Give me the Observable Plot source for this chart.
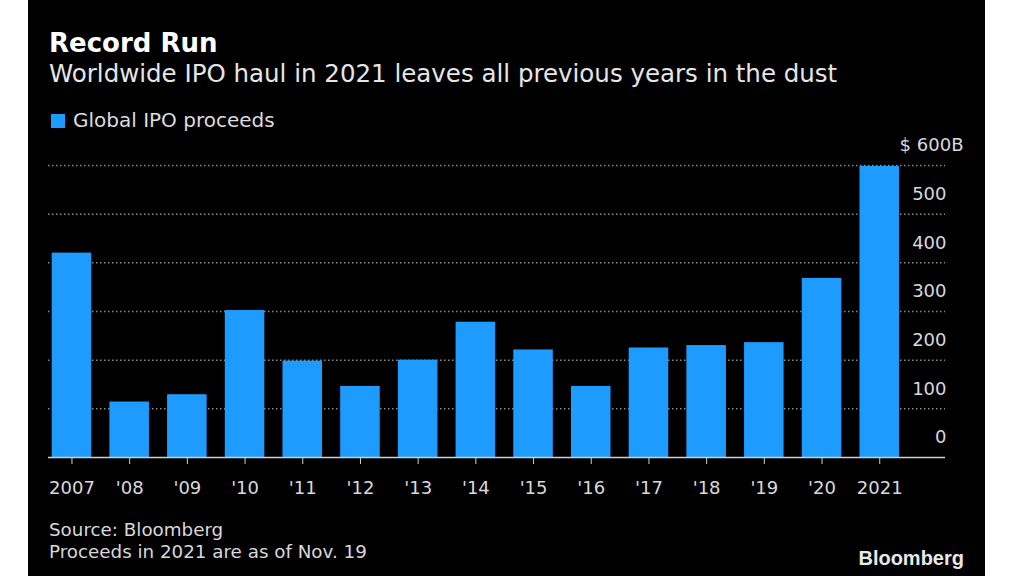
<!DOCTYPE html>
<html>
<head>
<meta charset="utf-8">
<script src="https://cdn.jsdelivr.net/npm/d3@7"></script>
<script src="https://cdn.jsdelivr.net/npm/@observablehq/plot@0.6"></script>
<style>
  html, body { margin: 0; padding: 0; background: #ffffff; width: 1024px; height: 576px; overflow: hidden; }
  #panel { position: absolute; left: 28px; top: 0; width: 957px; height: 576px; background: #000000; font-family: "DejaVu Sans", sans-serif; }
  .t { position: absolute; white-space: nowrap; }
  #title { left: 21px; top: 30px; font-size: 26px; line-height: 26px; font-weight: bold; color: #ffffff; }
  #subtitle { left: 21px; top: 62px; font-size: 24.5px; line-height: 24px; color: #e6e6e6; }
  #legend { left: 23px; top: 110px; font-size: 20px; line-height: 20px; color: #dcdcdc; }
  #legend .sw { display: inline-block; width: 14px; height: 14px; background: #1e9bff; margin-right: 8px; vertical-align: -1px; }
  #source1 { left: 21px; top: 521px; font-size: 18.3px; line-height: 18px; color: #d8d8d8; }
  #source2 { left: 21px; top: 543px; font-size: 18.3px; line-height: 18px; color: #d8d8d8; }
  #logo { right: 21px; top: 548px; font-family: "Liberation Sans", Arial, sans-serif; font-weight: bold; font-size: 20px; line-height: 20px; color: #e8e8e8; }
  #chart { position: absolute; left: 0; top: 130px; }
</style>
</head>
<body>
<div id="panel">
  <div class="t" id="title">Record Run</div>
  <div class="t" id="subtitle">Worldwide IPO haul in 2021 leaves all previous years in the dust</div>
  <div class="t" id="legend"><span class="sw"></span>Global IPO proceeds</div>
  <div id="chart"></div>
  <div class="t" id="source1">Source: Bloomberg</div>
  <div class="t" id="source2">Proceeds in 2021 are as of Nov. 19</div>
  <div class="t" id="logo">Bloomberg</div>
</div>
<script>
const years = ["2007","2008","2009","2010","2011","2012","2013","2014","2015","2016","2017","2018","2019","2020","2021"];
const yearLabels = ["2007","'08","'09","'10","'11","'12","'13","'14","'15","'16","'17","'18","'19","'20","2021"];
const proceeds = [420, 114, 129, 302, 198, 146, 200, 278, 221, 146, 225, 230, 236, 368, 598];
const yTicks = [0, 100, 200, 300, 400, 500, 600];
const yTickLabels = ["0", "100", "200", "300", "400", "500", "$ 600B"];

const data = years.map((y, i) => ({year: y, value: proceeds[i]}));
const labelOf = d => yearLabels[years.indexOf(d)];
const gridColor = "#8a8a8a";
const textColor = "#d9d9d9";

const chart = Plot.plot({
  width: 957,
  height: 380,
  marginLeft: 20,
  marginRight: 40,
  marginTop: 35,
  marginBottom: 53,
  style: {background: "transparent", color: textColor, fontFamily: "DejaVu Sans, sans-serif", fontSize: "18px"},
  x: {domain: years, range: [23.7, 871], paddingInner: 0.315, paddingOuter: 0, align: 0.5, round: false, axis: null},
  y: {domain: [0, 600], axis: null},
  marks: [
    Plot.ruleY(yTicks.filter(d => d > 0), {stroke: gridColor, strokeWidth: 1.5, strokeDasharray: "1.5,2.5"}),
    Plot.barY(data, {x: "year", y: "value", fill: "#1e9bff"}),
    Plot.ruleY([0], {stroke: "#d0d0d0", strokeWidth: 1.5}),
    Plot.axisX({tickSize: 7, tickPadding: 17, tickFormat: labelOf, fontSize: 18, label: null, stroke: "#d0d0d0", fill: textColor}),
    Plot.text(yTicks.slice(0, -1), {y: d => d, text: (d, i) => yTickLabels[i], frameAnchor: "right", textAnchor: "end", dx: 1, dy: -20, fill: textColor, fontSize: 18}),
    Plot.text(yTicks.slice(-1), {y: d => d, text: () => yTickLabels[yTickLabels.length - 1], frameAnchor: "right", textAnchor: "end", dx: 18, dy: -20, fill: textColor, fontSize: 18})
  ]
});
document.getElementById("chart").appendChild(chart);
</script>
</body>
</html>
